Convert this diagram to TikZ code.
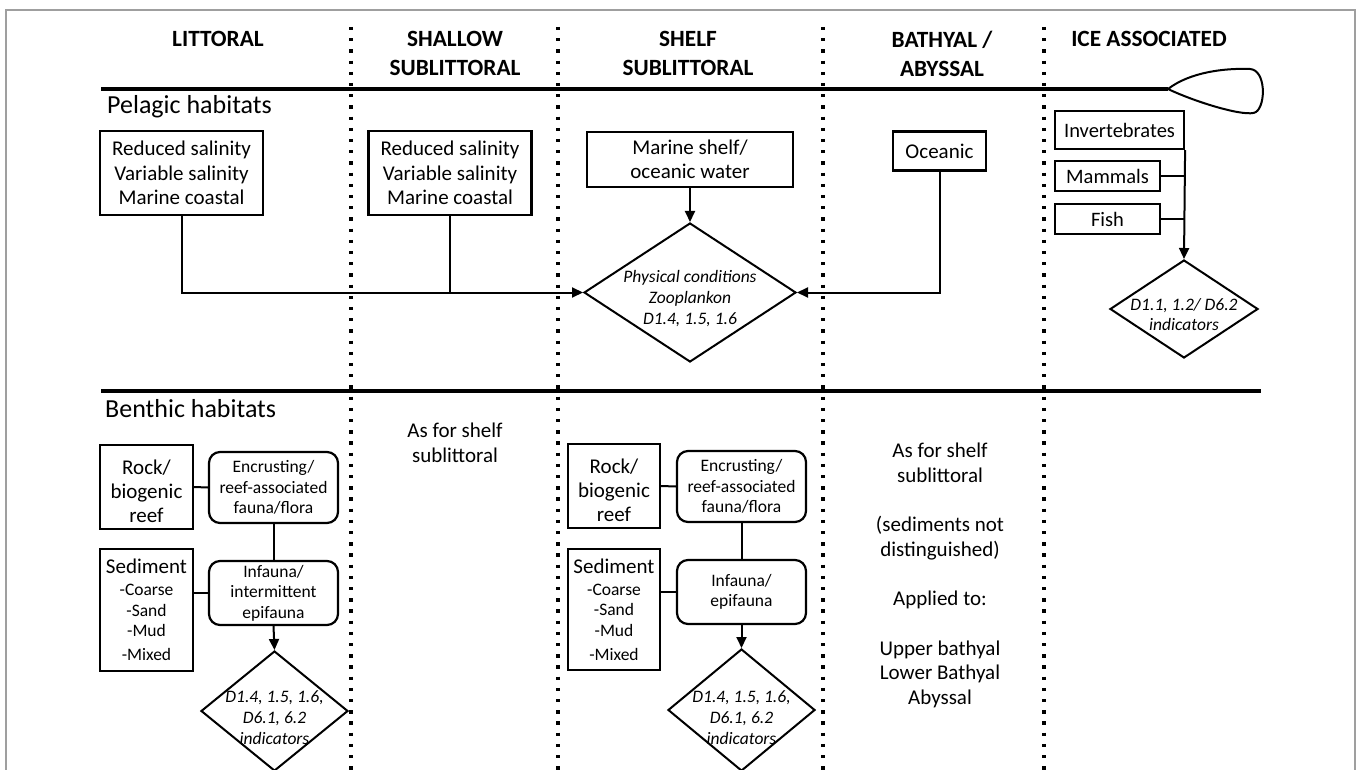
\documentclass[tikz,border=0pt]{standalone}
\usepackage{fontspec}
\setmainfont{Carlito}
\usetikzlibrary{shapes.geometric,arrows.meta}
\newcommand{\fsz}[2]{\fontsize{#1}{#2}\selectfont}
\begin{document}
\begin{tikzpicture}[x=1pt,y=-1pt,
  box/.style={draw, line width=2.2pt, rectangle, inner sep=0pt, align=center, font=\fsz{21}{24.5}},
  rbox/.style={box, rounded corners=11pt, font=\fsz{17.5}{20.5}},
  dia/.style={draw, line width=2pt, diamond, inner sep=0pt},
  dtxt/.style={align=center, font=\fsz{17.5}{20.8}\itshape, inner sep=0pt},
  head/.style={align=center, font=\fsz{23.3}{29}\bfseries, inner sep=0pt},
  sect/.style={anchor=west, font=\fsz{26}{30}, inner sep=0pt},
  plain/.style={align=center, font=\fsz{21}{24.7}, inner sep=0pt},
  conn/.style={line width=2pt},
  arr/.style={conn, -{Triangle[length=11pt,width=10pt]}},
  rulebar/.style={line width=3.3pt},
  zone/.style={line width=3.3pt, dash pattern=on 3.3pt off 7.9pt}
]
\useasboundingbox (0,0) rectangle (1358,770);
\clip (0,0) rectangle (1358,770);
\fill[white] (0,0) rectangle (1358,770);
% frame
\draw[gray!75, line width=1.5pt] (6,800) -- (6,10) -- (1355,10) -- (1355,800);

% zone separators
\foreach \xx in {351,558,823,1044} \draw[zone] (\xx,27) -- (\xx,790);

% headers
\node[head] (h1) at (218,39) {LITTORAL};
\node[head] (h2) at (455,53.5) {SHALLOW\\SUBLITTORAL};
\node[head] (h3) at (688,53.5) {SHELF\\SUBLITTORAL};
\node[head] (h4) at (942,53.5) {BATHYAL /\\ABYSSAL};
\node[head] (h5) at (1149,39) {ICE ASSOCIATED};

% top rule with ice
\draw[rulebar] (101,89) -- (1168,89);
\draw[line width=2pt] (1168,89) .. controls (1190,72) and (1225,68) .. (1250,69)
  .. controls (1266,70) and (1266,105) .. (1256,112)
  .. controls (1247,118) and (1195,102) .. (1168,89);

\node[sect] (pel) at (107,107) {Pelagic habitats};

% pelagic boxes
\node[box, minimum width=163pt, minimum height=84pt] (b1) at (181.5,173) {Reduced salinity\\Variable salinity\\Marine coastal};
\node[box, minimum width=163pt, minimum height=84pt] (b2) at (450,173) {Reduced salinity\\Variable salinity\\Marine coastal};
\node[box, minimum width=206pt, minimum height=55pt] (b3) at (690,159.5) {Marine shelf/\\oceanic water};
\node[box, minimum width=93pt, minimum height=39pt] (b4) at (939.5,151) {Oceanic};

\node[dia, minimum width=212pt, minimum height=139pt,
  label={[dtxt, yshift=-6pt]center:{Physical conditions\\Zooplankon\\D1.4, 1.5, 1.6}}] (dc) at (690,292.5) {};

\draw[arr] (b1.south) |- (dc.west);
\draw[conn] (b2.south) -- (b2.south |- dc.west);
\draw[arr] (b3.south) -- (dc.north);
\draw[arr] (b4.south) |- (dc.east);

% ice associated
\node[box, minimum width=129pt, minimum height=38pt, font=\fsz{20.5}{24}] (inv) at (1119.5,130) {Invertebrates};
\node[box, minimum width=105pt, minimum height=30pt, font=\fsz{20.5}{24}] (mam) at (1107.5,176) {Mammals};
\node[box, minimum width=105pt, minimum height=30pt, font=\fsz{20.5}{24}] (fish) at (1107.5,219) {Fish};
\node[dia, minimum width=148pt, minimum height=98pt,
  label={[dtxt, yshift=-5.5pt]center:{D1.1, 1.2/ D6.2\\indicators}}] (di) at (1184,309) {};
\draw[arr] (inv.south east) -- (di.north);
\draw[conn] (mam.east) -- (mam.east -| inv.east);
\draw[conn] (fish.east) -- (fish.east -| inv.east);

% second rule
\draw[rulebar] (101,391) -- (1261,391);
\node[sect] (ben) at (105,409) {Benthic habitats};

% littoral benthic
\node[box, minimum width=93pt, minimum height=84pt,
  label={[plain, font=\fsz{21}{24}, yshift=-4.5pt]center:{Rock/\\biogenic\\reef}}] (rock1) at (146.5,487) {};
\node[rbox, minimum width=129pt, minimum height=71pt] (enc1) at (273.5,487.5) {Encrusting/\\reef-associated\\fauna/flora};
\node[box, minimum width=93pt, minimum height=122pt, font=\fsz{17.5}{20.5}] (sed1) at (146.5,610) {{\fsz{21}{24}Sediment}\\[1.4pt]-Coarse\\-Sand\\-Mud\\[3.5pt]-Mixed};
\node[rbox, minimum width=129pt, minimum height=64pt] (inf1) at (273.5,593) {Infauna/\\intermittent\\epifauna};
\node[dia, minimum width=147pt, minimum height=120pt,
  label={[dtxt, yshift=-6.5pt]center:{D1.4, 1.5, 1.6,\\D6.1, 6.2\\indicators}}] (dl) at (274.5,711) {};
\draw[conn] (rock1.east) -- (enc1.west);
\draw[conn] (enc1.south) -- (inf1.north);
\draw[conn] (inf1.west) -- (inf1.west -| sed1.east);
\draw[arr] (inf1.south) -- (dl.north);

% shallow sublittoral benthic
\node[plain] (t2) at (455,443) {As for shelf\\sublittoral};

% shelf benthic
\node[box, minimum width=92pt, minimum height=84pt,
  label={[plain, font=\fsz{21}{24}, yshift=-4.5pt]center:{Rock/\\biogenic\\reef}}] (rock2) at (614,486) {};
\node[rbox, minimum width=129pt, minimum height=71pt] (enc2) at (741.5,486.5) {Encrusting/\\reef-associated\\fauna/flora};
\node[box, minimum width=92pt, minimum height=121pt, font=\fsz{17.5}{20.5}] (sed2) at (614,609.5) {{\fsz{21}{24}Sediment}\\[1.4pt]-Coarse\\-Sand\\-Mud\\[3.5pt]-Mixed};
\node[rbox, minimum width=129pt, minimum height=64pt] (inf2) at (741.5,592) {Infauna/\\epifauna};
\node[dia, minimum width=147pt, minimum height=122pt,
  label={[dtxt, yshift=-7.5pt]center:{D1.4, 1.5, 1.6,\\D6.1, 6.2\\indicators}}] (dm) at (741.5,710) {};
\draw[conn] (rock2.east) -- (enc2.west);
\draw[conn] (enc2.south) -- (inf2.north);
\draw[conn] (inf2.west) -- (inf2.west -| sed2.east);
\draw[arr] (inf2.south) -- (dm.north);

% bathyal benthic
\node[plain] (t4) at (940,575.5) {As for shelf\\sublittoral\\[24.7pt](sediments not\\distinguished)\\[24.7pt]Applied to:\\[24.7pt]Upper bathyal\\Lower Bathyal\\Abyssal};
\end{tikzpicture}
\end{document}
